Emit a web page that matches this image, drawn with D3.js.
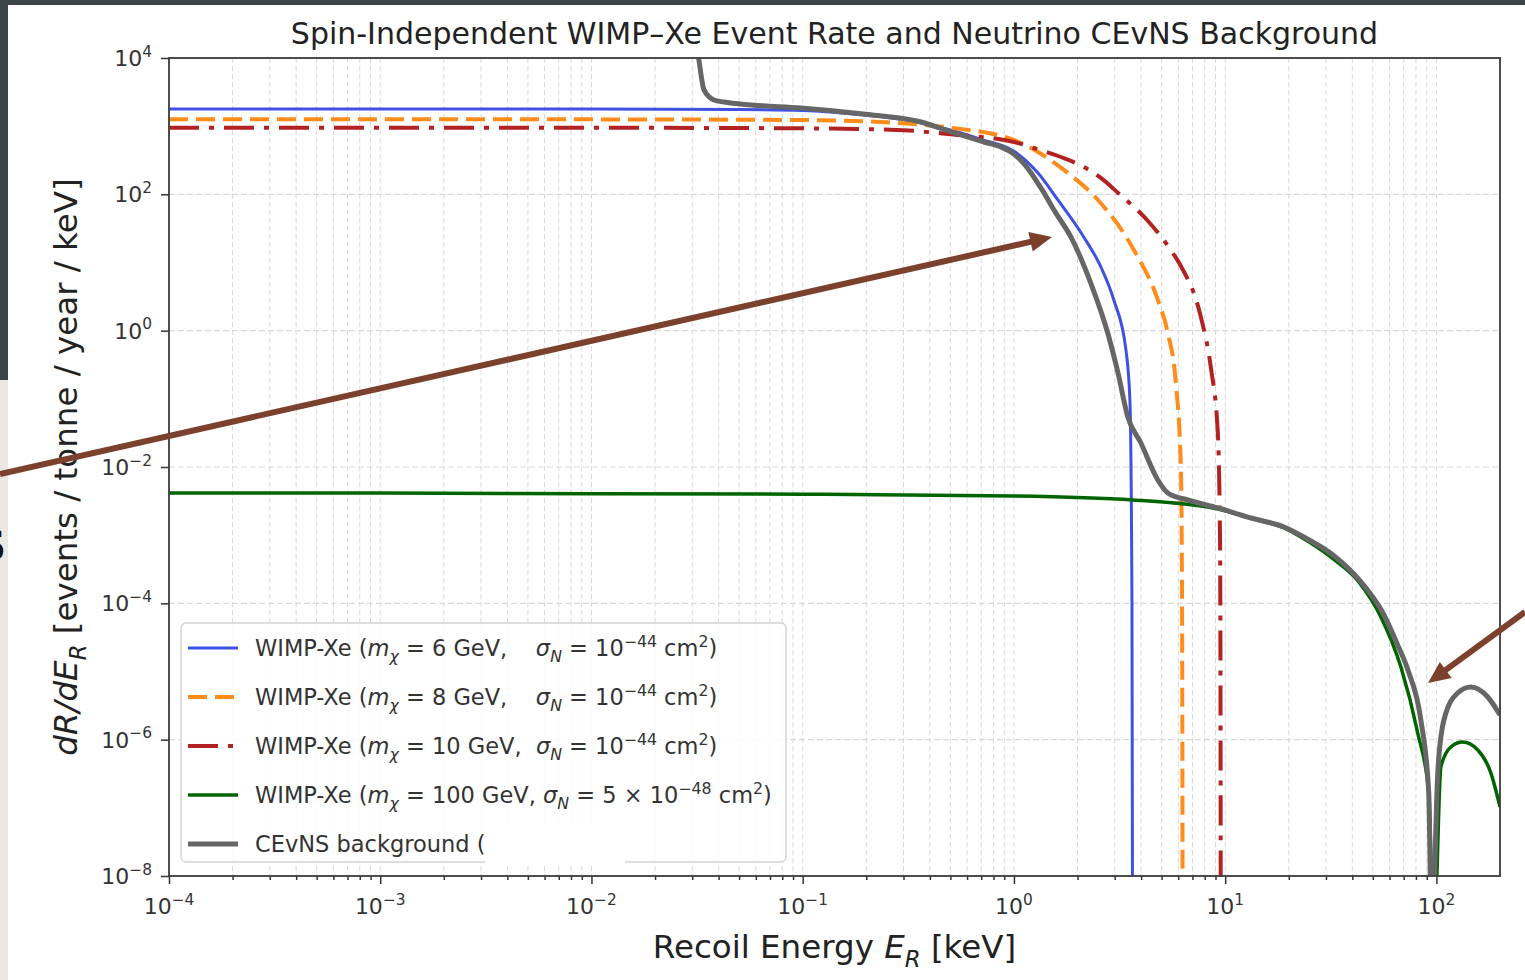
<!DOCTYPE html>
<html>
<head>
<meta charset="utf-8">
<script src="https://cdn.jsdelivr.net/npm/d3@7/dist/d3.min.js"></script>
<style>
  body { margin: 0; background: #fff; }
  svg { display: block; font-family: 'DejaVu Sans', sans-serif; }
  text { white-space: pre; }
</style>
</head>
<body>
<div id="chart"></div>
<script>
// ---- data (E in keV, rate in events / tonne / year / keV) ----
const wimp6 = [
  [1e-4, 1786], [1e-3, 1785], [1e-2, 1780], [0.05, 1750], [0.1, 1700], [0.2, 1450],
  [0.3, 1250], [0.5, 880], [0.7, 640], [1.0, 430], [1.3, 205], [1.615, 82.6],
  [2.14, 23.7], [2.58, 8.6], [2.97, 2.82], [3.39, 0.52], [3.54, 0.096], [3.62, 1e-4], [3.645, 1e-9]
];
const wimp8 = [
  [1e-4, 1262], [1e-3, 1261], [1e-2, 1258], [0.1, 1230], [0.3, 1100], [0.5, 950],
  [1.0, 627], [1.8, 206], [2.5, 82.6], [3.7, 15.2], [4.8, 2.82], [5.35, 0.925],
  [5.84, 0.171], [6.17, 0.01], [6.25, 1e-4], [6.29, 1e-9]
];
const wimp10 = [
  [1e-4, 950], [1e-3, 949], [1e-2, 948], [0.1, 930], [0.3, 870], [0.5, 760],
  [1.0, 586], [1.243, 478], [1.669, 353], [2.19, 243], [2.58, 174], [3.11, 105],
  [4.31, 40.6], [5.53, 15.2], [6.17, 8.9], [7.67, 1.59], [8.55, 0.29], [9.23, 0.0316],
  [9.45, 1.0e-3], [9.5, 1e-5], [9.53, 1e-9]
];
const wimp100 = [
  [1e-4, 4.16e-3], [1e-3, 4.15e-3], [1e-2, 4.05e-3], [0.1, 4.0e-3], [1, 3.76e-3],
  [3.66, 3.28e-3], [9.23, 2.42e-3], [13.2, 1.77e-3], [19.0, 1.28e-3], [25, 7.9e-4],
  [32.7, 4.4e-4], [42.9, 2.06e-4], [54.6, 6.3e-5], [67.9, 1.16e-5], [81.6, 1.25e-6],
  [92.0, 1.65e-7], [97.3, 1e-9], [105, 3.98e-7], [117, 7.8e-7], [133, 9.25e-7],
  [157, 7.07e-7], [181, 3.25e-7], [200, 1.03e-7]
];
const cevns = [
  [0.028, 1e5], [0.032, 1.1e4], [0.0341, 3400], [0.038, 2420], [0.0424, 2260],
  [0.0569, 2050], [0.0982, 1850], [0.204, 1480], [0.351, 1180], [0.504, 830],
  [0.721, 586], [0.868, 495], [1.0, 391], [1.14, 260], [1.342, 124], [1.58, 53],
  [1.86, 23.7], [2.31, 5.0], [2.78, 0.925], [3.11, 0.239], [3.46, 0.0542], [3.99, 0.0225],
  [4.8, 0.00645], [5.35, 0.00416], [6.66, 0.00328], [9.23, 0.00251], [13.2, 0.00179],
  [19.0, 0.00132], [25, 8.5e-4], [32.7, 5.0e-4], [42.9, 2.25e-4], [56.4, 6.8e-5],
  [65, 2.6e-5], [73.3, 1.05e-5], [84.4, 1.94e-6], [92.0, 1.65e-7], [95.0, 1e-9],
  [101.5, 3.25e-7], [108.5, 1.94e-6], [126, 4.84e-6], [145.5, 5.93e-6], [175, 4.23e-6],
  [200, 2.3e-6]
];

const xTickExps = [-4, -3, -2, -1, 0, 1, 2];
const yTickExps = [-8, -6, -4, -2, 0, 2, 4];

// legend labels as [text, kind] runs: n normal, i italic, sub / sup, isub italic subscript
const legendLabels = [
  [['WIMP-Xe ('], ['m', 'i'], ['χ', 'isub'], [' = 6 GeV,    '], ['σ', 'i'], ['N', 'isub'], [' = 10'], ['−44', 'sup'], [' cm'], ['2', 'sup'], [')']],
  [['WIMP-Xe ('], ['m', 'i'], ['χ', 'isub'], [' = 8 GeV,    '], ['σ', 'i'], ['N', 'isub'], [' = 10'], ['−44', 'sup'], [' cm'], ['2', 'sup'], [')']],
  [['WIMP-Xe ('], ['m', 'i'], ['χ', 'isub'], [' = 10 GeV,  '], ['σ', 'i'], ['N', 'isub'], [' = 10'], ['−44', 'sup'], [' cm'], ['2', 'sup'], [')']],
  [['WIMP-Xe ('], ['m', 'i'], ['χ', 'isub'], [' = 100 GeV, '], ['σ', 'i'], ['N', 'isub'], [' = 5 × 10'], ['−48', 'sup'], [' cm'], ['2', 'sup'], [')']],
  [['CEvNS background (']]
];

// ---- styles ----
const series = [
  { data: wimp6, color: '#3f51e3', width: 3, dash: null },
  { data: wimp8, color: '#ff8c1a', width: 4, dash: '19,8' },
  { data: wimp10, color: '#b22222', width: 4, dash: '30,10,5,10' },
  { data: wimp100, color: '#006400', width: 3.5, dash: null },
  { data: cevns, color: '#666666', width: 5, dash: null }
];

const W = 1525, H = 980;
const plot = { left: 169, right: 1500, top: 58, bottom: 876 };

const x = d3.scaleLog().domain([1e-4, 200]).range([plot.left, plot.right]);
const y = d3.scaleLog().domain([1e-8, 1e4]).range([plot.bottom, plot.top]);

const svg = d3.select('#chart').append('svg')
  .attr('width', W)
  .attr('height', H);

svg.append('rect').attr('width', W).attr('height', H).attr('fill', '#fff');

// rich text with sub / superscripts
const rich = (sel, parts, size) => {
  let shift = 0;
  parts.forEach(([t, kind = 'n']) => {
    const isSup = kind === 'sup';
    const isSub = kind === 'sub' || kind === 'isub';
    const target = isSup ? -0.42 * size : isSub ? 0.28 * size : 0;
    const ts = sel.append('tspan').text(t).attr('dy', target - shift);
    if (isSup || isSub) ts.attr('font-size', size * 0.7);
    if (kind === 'i' || kind === 'isub') ts.attr('font-style', 'italic');
    shift = target;
  });
};

const defs = svg.append('defs');
defs.append('clipPath').attr('id', 'clip')
  .append('rect')
  .attr('x', plot.left).attr('y', plot.top)
  .attr('width', plot.right - plot.left).attr('height', plot.bottom - plot.top);

// grid
const minorX = [];
xTickExps.forEach(e => {
  for (let m = 1; m <= 9; m++) {
    const v = m * Math.pow(10, e);
    if (v > 1e-4 && v < 200) minorX.push(v);
  }
});

svg.append('g')
  .selectAll('line')
  .data(minorX)
  .enter().append('line')
  .attr('x1', d => x(d)).attr('x2', d => x(d))
  .attr('y1', plot.top).attr('y2', plot.bottom)
  .attr('stroke', '#d9d9d9')
  .attr('stroke-width', 1)
  .attr('stroke-dasharray', '5,3');

svg.append('g')
  .selectAll('line')
  .data(yTickExps.slice(1, -1).map(e => Math.pow(10, e)))
  .enter().append('line')
  .attr('x1', plot.left).attr('x2', plot.right)
  .attr('y1', d => y(d)).attr('y2', d => y(d))
  .attr('stroke', '#d9d9d9')
  .attr('stroke-width', 1.2)
  .attr('stroke-dasharray', '6,3');

// curves
const line = d3.line()
  .x(d => x(d[0]))
  .y(d => y(d[1]))
  .curve(d3.curveMonotoneX);

svg.append('g')
  .attr('clip-path', 'url(#clip)')
  .selectAll('path')
  .data(series)
  .enter().append('path')
  .attr('d', d => line(d.data))
  .attr('fill', 'none')
  .attr('stroke', d => d.color)
  .attr('stroke-width', d => d.width)
  .attr('stroke-dasharray', d => d.dash)
  .attr('stroke-linejoin', 'round');

// axes
const xAxis = d3.axisBottom(x)
  .tickValues(xTickExps.map(e => Math.pow(10, e)))
  .tickSize(8)
  .tickFormat('');
const xMinor = d3.axisBottom(x)
  .tickValues(minorX.filter(v => !xTickExps.some(e => Math.abs(v - Math.pow(10, e)) < 1e-12)))
  .tickSize(4)
  .tickFormat('');
const yAxis = d3.axisLeft(y)
  .tickValues(yTickExps.map(e => Math.pow(10, e)))
  .tickSize(8)
  .tickFormat('');

[xAxis, xMinor].forEach(ax => {
  svg.append('g')
    .attr('class', 'x axis')
    .attr('transform', `translate(0, ${plot.bottom})`)
    .call(ax)
    .call(g => g.select('.domain').remove())
    .call(g => g.selectAll('line').attr('stroke', '#333').attr('stroke-width', 1.5));
});

svg.append('g')
  .attr('class', 'y axis')
  .attr('transform', `translate(${plot.left}, 0)`)
  .call(yAxis)
  .call(g => g.select('.domain').remove())
  .call(g => g.selectAll('line').attr('stroke', '#333').attr('stroke-width', 1.5));

// frame
svg.append('rect')
  .attr('x', plot.left).attr('y', plot.top)
  .attr('width', plot.right - plot.left).attr('height', plot.bottom - plot.top)
  .attr('fill', 'none')
  .attr('stroke', '#3a3a3a')
  .attr('stroke-width', 1.8);

// tick labels
xTickExps.forEach(e => {
  const t = svg.append('text')
    .attr('x', x(Math.pow(10, e)))
    .attr('y', 914)
    .attr('text-anchor', 'middle')
    .attr('font-size', 22)
    .attr('fill', '#333');
  rich(t, [['10'], [e < 0 ? `−${-e}` : `${e}`, 'sup']], 22);
});

yTickExps.forEach(e => {
  const t = svg.append('text')
    .attr('x', 152)
    .attr('y', y(Math.pow(10, e)) + 8)
    .attr('text-anchor', 'end')
    .attr('font-size', 22)
    .attr('fill', '#333');
  rich(t, [['10'], [e < 0 ? `−${-e}` : `${e}`, 'sup']], 22);
});

// title and axis labels
svg.append('text')
  .attr('x', (plot.left + plot.right) / 2)
  .attr('y', 44)
  .attr('text-anchor', 'middle')
  .attr('font-size', 30)
  .attr('fill', '#222')
  .text('Spin-Independent WIMP–Xe Event Rate and Neutrino CEvNS Background');

const xl = svg.append('text')
  .attr('x', (plot.left + plot.right) / 2)
  .attr('y', 958)
  .attr('text-anchor', 'middle')
  .attr('font-size', 32.5)
  .attr('fill', '#222');
rich(xl, [['Recoil Energy '], ['E', 'i'], ['R', 'isub'], [' [keV]']], 32.5);

const yl = svg.append('text')
  .attr('transform', `translate(77, ${(plot.top + plot.bottom) / 2}) rotate(-90)`)
  .attr('text-anchor', 'middle')
  .attr('font-size', 32.5)
  .attr('fill', '#222');
rich(yl, [['dR/dE', 'i'], ['R', 'isub'], [' [events / tonne / year / keV]']], 32.5);

// legend
const legend = svg.append('g');
legend.append('rect')
  .attr('x', 181).attr('y', 623)
  .attr('width', 605).attr('height', 239)
  .attr('rx', 5)
  .attr('fill', '#fff')
  .attr('fill-opacity', 0.85)
  .attr('stroke', '#d4d4d4')
  .attr('stroke-width', 1.5);

series.forEach((s, i) => {
  const cy = 648 + i * 49;
  legend.append('line')
    .attr('x1', 188).attr('x2', 238)
    .attr('y1', cy).attr('y2', cy)
    .attr('stroke', s.color)
    .attr('stroke-width', s.width)
    .attr('stroke-dasharray', s.dash);
  const t = legend.append('text')
    .attr('x', 255)
    .attr('y', cy + 8)
    .attr('font-size', 22.5)
    .attr('fill', '#333');
  rich(t, legendLabels[i], 22.5);
});

// screenshot overlays: pasted patch, page frame, arrows
svg.append('rect').attr('x', 485).attr('y', 826).attr('width', 140).attr('height', 40).attr('fill', '#fff');

svg.append('rect').attr('x', 0).attr('y', 0).attr('width', W).attr('height', 5).attr('fill', '#3b4446');
svg.append('rect').attr('x', 0).attr('y', 0).attr('width', 8).attr('height', 380).attr('fill', '#3b4446');
svg.append('rect').attr('x', 0).attr('y', 380).attr('width', 8).attr('height', 600).attr('fill', '#ebe7e3');
svg.append('text')
  .attr('x', 6).attr('y', 560)
  .attr('text-anchor', 'end')
  .attr('font-size', 40)
  .attr('font-weight', 'bold')
  .attr('fill', '#111')
  .text('S');

const arrows = [
  { from: [0, 474], to: [1052, 237] },
  { from: [1525, 612], to: [1428, 683] }
];
arrows.forEach(a => {
  const dx = a.to[0] - a.from[0], dy = a.to[1] - a.from[1];
  const len = Math.hypot(dx, dy);
  const ux = dx / len, uy = dy / len;
  const head = 22, half = 10;
  const bx = a.to[0] - ux * head, by = a.to[1] - uy * head;
  svg.append('line')
    .attr('x1', a.from[0]).attr('y1', a.from[1])
    .attr('x2', bx + ux * 2).attr('y2', by + uy * 2)
    .attr('stroke', '#7b412d')
    .attr('stroke-width', 6);
  svg.append('path')
    .attr('d', `M${a.to[0]},${a.to[1]} L${bx - uy * half},${by + ux * half} L${bx + uy * half},${by - ux * half} Z`)
    .attr('fill', '#7b412d');
});
</script>
</body>
</html>
